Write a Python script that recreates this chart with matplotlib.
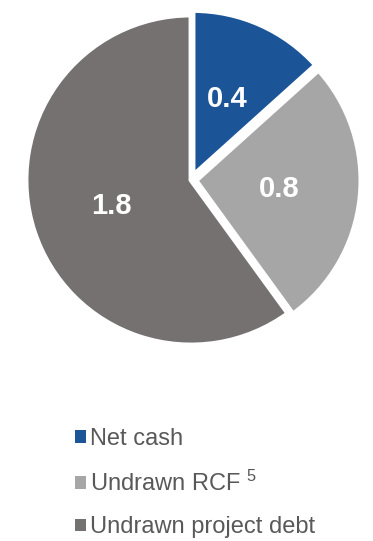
import matplotlib
matplotlib.use("Agg")
import matplotlib.pyplot as plt

categories = ["Net cash", "Undrawn RCF", "Undrawn project debt"]
values = [0.4, 0.8, 1.8]
colors = ["#1B5597", "#A6A6A6", "#767171"]
footnote = "5"

plt.rcParams["font.family"] = ["Liberation Sans", "DejaVu Sans"]
plt.rcParams["mathtext.fontset"] = "custom"
plt.rcParams["mathtext.rm"] = "Liberation Sans"
plt.rcParams["mathtext.it"] = "Liberation Sans"

W, H = 373, 541
fig = plt.figure(figsize=(W / 100, H / 100), dpi=100)

# pie axes: centre and radius in pixels
cx, cy, R, lim = 191, 180, 165, 1.2
ax = fig.add_axes([(cx - lim * R) / W, (H - (cy + lim * R)) / H,
                   2 * lim * R / W, 2 * lim * R / H])
total = sum(values)
wedges, texts, autotexts = ax.pie(
    values, colors=colors, startangle=90, counterclock=False,
    explode=[0.03, 0.03, 0.0],
    wedgeprops=dict(edgecolor="white", linewidth=3.5),
    autopct=lambda p: f"{p * total / 100:.1f}", pctdistance=0.51,
    textprops=dict(color="white", fontsize=21, fontweight="bold"))
ax.set_xlim(-lim, lim)
ax.set_ylim(-lim, lim)
ax.set_aspect("equal")
ax.axis("off")

labels = [categories[0], categories[1] + r" $^{" + footnote + "}$", categories[2]]
leg = fig.legend(wedges, labels, loc="upper left",
                 bbox_to_anchor=(75 / W, 1 - 428 / H), frameon=False,
                 fontsize=17, handlelength=0.45, handleheight=0.45,
                 handletextpad=0.2, labelspacing=0.87, borderaxespad=0,
                 borderpad=0)
for t in leg.get_texts():
    t.set_color("#595959")
for h in leg.legend_handles:
    h.set_edgecolor("none")

fig.savefig("out.png", dpi=100)
